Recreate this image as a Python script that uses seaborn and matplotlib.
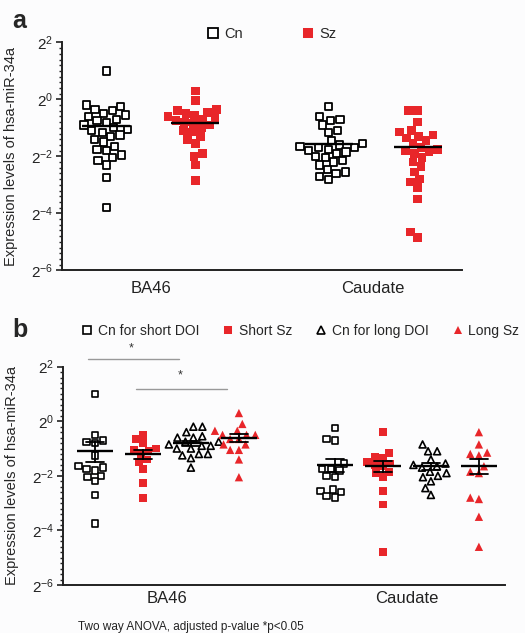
import numpy as np
import pandas as pd
import seaborn as sns
import matplotlib.pyplot as plt
from matplotlib.lines import Line2D
from matplotlib.ticker import FixedLocator, NullFormatter

sns.set_theme(style="ticks")
plt.rcParams['font.family'] = ['Liberation Sans', 'DejaVu Sans']
plt.rcParams['mathtext.fontset'] = 'custom'
plt.rcParams['mathtext.rm'] = 'Liberation Sans'
plt.rcParams['mathtext.default'] = 'regular'

RED = '#e8262a'
BG = '#fcfcfd'
regions = ['BA46', 'Caudate']

# panel a: log2 expression levels
a_groups = ['Cn', 'Sz']
a_ba46_cn = [1.0, -0.2, -0.25, -0.35, -0.4, -0.5, -0.55, -0.6, -0.7, -0.75, -0.8, -0.9,
             -1.0, -1.05, -1.1, -1.15, -1.25, -1.3, -1.4, -1.5, -1.65, -1.75, -1.8,
             -1.95, -2.05, -2.15, -2.3, -2.75, -3.8]
a_ba46_sz = [0.3, -0.05, -0.35, -0.4, -0.45, -0.5, -0.55, -0.6, -0.65, -0.7, -0.75,
             -0.8, -0.85, -0.9, -1.0, -1.1, -1.15, -1.3, -1.4, -1.55, -1.9, -2.0,
             -2.3, -2.85]
a_caud_cn = [-0.25, -0.6, -0.7, -0.75, -0.9, -1.1, -1.15, -1.45, -1.55, -1.6, -1.65,
             -1.7, -1.7, -1.75, -1.8, -1.85, -1.9, -2.0, -2.05, -2.15, -2.2, -2.3,
             -2.45, -2.55, -2.6, -2.7, -2.8]
a_caud_sz = [-0.4, -0.4, -0.8, -1.1, -1.15, -1.25, -1.3, -1.35, -1.45, -1.55, -1.7,
             -1.75, -1.8, -1.85, -1.9, -2.05, -2.2, -2.35, -2.55, -2.8, -2.9, -3.1,
             -3.5, -4.65, -4.85]

# panel b: split by duration of illness (DOI)
b_groups = ['Cn for short DOI', 'Short Sz', 'Cn for long DOI', 'Long Sz']
b_ba46 = {
    'Cn for short DOI': [1.0, -0.5, -0.7, -0.75, -0.8, -1.25, -1.65, -1.7, -1.75, -1.8,
                         -2.0, -2.05, -2.2, -2.7, -3.75],
    'Short Sz': [-0.5, -0.65, -0.8, -1.0, -1.05, -1.1, -1.2, -1.4, -1.5, -1.75, -2.25,
                 -2.8],
    'Cn for long DOI': [-0.2, -0.2, -0.4, -0.55, -0.6, -0.6, -0.75, -0.75, -0.85, -0.9,
                        -0.9, -1.0, -1.0, -1.2, -1.2, -1.25, -1.35, -1.7],
    'Long Sz': [0.3, -0.1, -0.35, -0.35, -0.5, -0.5, -0.5, -0.65, -0.65, -0.85, -0.85,
                -1.05, -1.05, -1.4, -2.05],
}
b_caud = {
    'Cn for short DOI': [-0.25, -0.65, -0.7, -1.55, -1.75, -1.75, -1.8, -2.0, -2.05,
                         -2.5, -2.55, -2.6, -2.75, -2.8],
    'Short Sz': [-0.4, -1.15, -1.3, -1.35, -1.5, -1.55, -1.6, -1.65, -1.85, -1.9, -2.05,
                 -2.55, -3.05, -4.8],
    'Cn for long DOI': [-0.85, -1.1, -1.1, -1.4, -1.55, -1.6, -1.65, -1.7, -1.85, -1.9,
                        -2.0, -2.05, -2.2, -2.45, -2.7],
    'Long Sz': [-0.4, -0.85, -1.15, -1.2, -1.25, -1.65, -1.85, -1.9, -2.8, -2.85, -3.5,
                -4.6],
}

yticks_exp = [-6, -4, -2, 0, 2]


def to_frame(pairs):
    rows = []
    for region, group, vals in pairs:
        for v in vals:
            rows.append({'region': region, 'group': group, 'expr': 2.0 ** v})
    return pd.DataFrame(rows)


df_a = to_frame([('BA46', 'Cn', a_ba46_cn), ('BA46', 'Sz', a_ba46_sz),
                 ('Caudate', 'Cn', a_caud_cn), ('Caudate', 'Sz', a_caud_sz)])
df_b = to_frame([(r, g, d[g]) for r, d in (('BA46', b_ba46), ('Caudate', b_caud))
                 for g in b_groups])


# the axis is log2, so seaborn hands these the log2 values; mean/sem on raw scale
def mean_raw(v):
    return np.log2(np.mean(np.exp2(v)))


def sem_raw(v):
    raw = np.exp2(np.asarray(v))
    m = raw.mean()
    s = raw.std(ddof=1) / np.sqrt(len(raw))
    return np.log2(m - s), np.log2(m + s)


def setup_axis(ax):
    ax.set_facecolor(BG)
    ax.set_yscale('log', base=2)
    ax.set_ylim(2.0 ** -6, 2.0 ** 2)
    ax.set_yticks([2.0 ** e for e in yticks_exp],
                  labels=[f'$2^{{{e}}}$' for e in yticks_exp])
    ax.yaxis.set_minor_locator(FixedLocator(2.0 ** np.arange(-6, 2.001, 0.2)))
    ax.yaxis.set_minor_formatter(NullFormatter())


def draw_panel(ax, df, groups, styles, mean_size, errorbar, capsize):
    setup_axis(ax)
    for g in groups:
        marker, face, edge, lw, size = styles[g]
        sns.swarmplot(data=df[df['group'] == g], x='region', y='expr', hue='group',
                      order=regions, hue_order=groups, dodge=True,
                      palette={k: face for k in groups}, marker=marker, size=size,
                      edgecolor=edge, linewidth=lw, legend=False, ax=ax)
    n = len(groups)
    # mean (+/- sem) drawn on top of the dots
    sns.pointplot(data=df, x='region', y='expr', hue='group', order=regions,
                  hue_order=groups, dodge=0.8 * (n - 1) / n,
                  palette={k: 'black' for k in groups}, estimator=mean_raw,
                  errorbar=errorbar, capsize=capsize, linestyle='none', marker='_',
                  markersize=mean_size, markeredgewidth=1.7, zorder=5,
                  err_kws={'linewidth': 1.3, 'zorder': 5}, legend=False, ax=ax)
    ax.set_xlabel('')
    ax.set_ylabel('Expression levels of hsa-miR-34a', fontsize=10.5)
    sns.despine(ax=ax)
    for s in ('left', 'bottom'):
        ax.spines[s].set_linewidth(1.4)
        ax.spines[s].set_color('#222222')
    ax.tick_params(axis='x', length=0, labelsize=12, colors='#222222')
    ax.tick_params(axis='y', which='major', length=4.5, width=1.2, labelsize=11,
                   pad=2, colors='#222222')
    ax.tick_params(axis='y', which='minor', length=2.5, width=1.0, colors='#222222')


fig = plt.figure(figsize=(5.25, 6.33), dpi=100, facecolor=BG)
ax_a = fig.add_axes([0.118, 0.573, 0.762, 0.360])
ax_b = fig.add_axes([0.120, 0.0758, 0.842, 0.345])

# marker, face, edge, edge width, size
styles_a = {'Cn': ('s', 'white', 'black', 1.3, 5.2), 'Sz': ('s', RED, RED, 0, 6.2)}
draw_panel(ax_a, df_a, a_groups, styles_a, 35, None, 0)
ax_a.set_xlim(-0.40, 1.40)
ax_a.tick_params(axis='x', pad=8)
ax_a.yaxis.set_label_coords(-0.111, 0.5)

styles_b = {'Cn for short DOI': ('s', 'white', 'black', 1.2, 4.6),
            'Short Sz': ('s', RED, RED, 0, 5.6),
            'Cn for long DOI': ('^', 'white', 'black', 1.2, 5.0),
            'Long Sz': ('^', RED, RED, 0, 6.0)}
draw_panel(ax_b, df_b, b_groups, styles_b, 26, sem_raw, 0.075)
ax_b.set_xlim(-0.433, 1.409)
ax_b.tick_params(axis='x', pad=4)
ax_b.yaxis.set_label_coords(-0.0995, 0.5)


# legends
def handle(style, ms):
    marker, face, edge, lw, _ = style
    return Line2D([], [], marker=marker, linestyle='none', markerfacecolor=face,
                  markeredgecolor=edge, markeredgewidth=max(lw, 0.01), markersize=ms)


ax_a.legend([handle(styles_a[g], 6.5) for g in a_groups], a_groups, ncol=2,
            loc='center left', bbox_to_anchor=(0.394, 0.946),
            bbox_transform=fig.transFigure, frameon=False, fontsize=10.5,
            handlelength=0.8, handletextpad=0.4, columnspacing=4.05,
            borderpad=0, borderaxespad=0)
ax_b.legend([handle(styles_b[g], 5.5) for g in b_groups], b_groups, ncol=4,
            loc='center left', bbox_to_anchor=(0.157, 0.4776),
            bbox_transform=fig.transFigure, frameon=False, fontsize=10,
            handlelength=0.7, handletextpad=0.4, columnspacing=1.75,
            borderpad=0, borderaxespad=0)

# significance brackets
for (x0, x1, y, xs, ys) in [(-0.33, 0.05, 2 ** 2.27, -0.15, 2 ** 2.68),
                           (-0.13, 0.25, 2 ** 1.18, 0.055, 2 ** 1.66)]:
    ax_b.plot([x0, x1], [y, y], color='#999999', linewidth=1.0, clip_on=False)
    ax_b.text(xs, ys, '*', ha='center', va='center', fontsize=9, color='#333333')

fig.text(12 / 525, 1 - 28 / 633, 'a', fontsize=18, fontweight='bold', va='baseline')
fig.text(12 / 525, 1 - 337 / 633, 'b', fontsize=18, fontweight='bold', va='baseline')
fig.text(78 / 525, 1 - 627 / 633, 'Two way ANOVA, adjusted p-value *p<0.05',
         fontsize=8.5, va='center', color='#222222')

fig.savefig('out.png', dpi=100, facecolor=BG)
